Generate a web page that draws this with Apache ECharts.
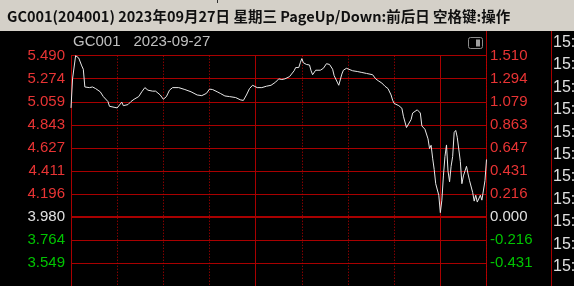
<!DOCTYPE html>
<html>
<head>
<meta charset="utf-8">
<script src="https://cdn.jsdelivr.net/npm/echarts@6/dist/echarts.min.js"></script>
<style>
html,body{margin:0;padding:0;background:#000;}
#c{width:574px;height:286px;}
</style>
</head>
<body>
<div id="c"></div>
<script>
// ---- data ----
var titleText = 'GC001(204001) 2023年09月27日 星期三 PageUp/Down:前后日 空格键:操作';
var codeText = 'GC001';
var dateText = '2023-09-27';
var preClose = 3.980;
var stepValue = 0.215714;
var leftTicks = ['5.490','5.274','5.059','4.843','4.627','4.411','4.196','3.980','3.764','3.549'];
var rightTicks = ['1.510','1.294','1.079','0.863','0.647','0.431','0.216','0.000','-0.216','-0.431'];
var sideTimes = ['15:30','15:30','15:30','15:30','15:30','15:30','15:30','15:30','15:30','15:30','15:30'];
// trading minutes from 09:30 (lunch break removed; 120 = 11:30/13:00, 240 = 15:00, 270 = 15:30)
var minutes = [0,1,3,5,7,8,9,12,14,16,19,21,22,24,25,26,28,30,33,34,37,39,41,44,46,48,50,53,55,58,60,62,64,66,70,71,74,78,82,85,88,90,92,95,97,100,103,107,110,112,114,116,118,121,124,127,130,133,135,137,139,140,142,145,146,148,149,150,151,153,155,156,157,159,160,162,164,166,167,168,170,171,173,174,175,176,177,179,180,183,186,189,192,196,198,200,202,204,206,208,209,210,213,215,216,218,219,221,222,225,226,227,228,230,232,233,234,235,236,237,239,240,241,242,243,244,245,246,247,248,249,250,251,253,254,255,257,258,259,261,262,263,264,266,267,268,269,270];
var prices = [5.001,5.273,5.490,5.469,5.394,5.363,5.197,5.191,5.197,5.182,5.152,5.107,5.107,5.061,5.016,5.016,5.007,5.001,5.055,5.022,5.032,5.061,5.082,5.107,5.152,5.191,5.167,5.158,5.158,5.122,5.082,5.107,5.167,5.191,5.191,5.182,5.173,5.152,5.122,5.116,5.137,5.177,5.173,5.152,5.137,5.113,5.107,5.098,5.077,5.071,5.122,5.182,5.213,5.191,5.191,5.204,5.213,5.243,5.273,5.267,5.273,5.273,5.294,5.349,5.379,5.379,5.424,5.463,5.424,5.408,5.403,5.349,5.312,5.354,5.342,5.354,5.372,5.415,5.433,5.408,5.363,5.303,5.243,5.213,5.227,5.318,5.354,5.372,5.363,5.349,5.342,5.333,5.324,5.312,5.273,5.252,5.234,5.204,5.182,5.122,5.073,5.043,5.022,4.998,4.923,4.817,4.832,4.892,4.953,4.983,4.992,4.953,4.832,4.801,4.711,4.620,4.651,4.530,4.425,4.291,4.183,4.020,4.137,4.364,4.545,4.654,4.409,4.309,4.454,4.545,4.771,4.790,4.726,4.500,4.291,4.364,4.454,4.382,4.319,4.210,4.128,4.183,4.119,4.183,4.137,4.137,4.319,4.518];

// ---- build ----
var seriesData = minutes.map(function (m, i) {
  return [m, (prices[i] - preClose) / stepValue];
});
var RED = '#e83434', GREEN = '#00c400', WHITE = '#e0e0e0';
var GRID = '#a80000';
function labelColor(v) {
  v = Math.round(Number(v));
  return v > 0 ? RED : (v < 0 ? GREEN : WHITE);
}
var labelFont = 'Liberation Sans, Arial, sans-serif';

var graphics = [
  { type: 'rect', shape: { x: 0, y: 0, width: 574, height: 31 }, style: { fill: '#d4d0c8' }, silent: true },
  { type: 'line', shape: { x1: 217.5, y1: 0, x2: 217.5, y2: 3 }, style: { stroke: '#303030', lineWidth: 1 }, silent: true },
  { type: 'text', x: 7, y: 16, style: { text: titleText, fill: '#101010', font: 'bold 14.5px "Noto Sans CJK SC", sans-serif', verticalAlign: 'middle' }, silent: true },
  { type: 'text', x: 73, y: 42, style: { text: codeText, fill: '#c0c0c0', font: '15px ' + labelFont, verticalAlign: 'middle' }, silent: true },
  { type: 'text', x: 133.5, y: 42, style: { text: dateText, fill: '#c0c0c0', font: '15px ' + labelFont, verticalAlign: 'middle' }, silent: true },
  { type: 'rect', shape: { x: 468.5, y: 37.5, width: 14, height: 11, r: 2 }, style: { fill: 'none', stroke: '#8c8c8c', lineWidth: 1 }, silent: true },
  { type: 'rect', shape: { x: 476, y: 39.5, width: 4, height: 7 }, style: { fill: '#a0a0a0' }, silent: true },
  { type: 'line', shape: { x1: 486.5, y1: 31, x2: 486.5, y2: 286 }, style: { stroke: GRID, lineWidth: 1 }, silent: true },
  { type: 'line', shape: { x1: 551.5, y1: 31, x2: 551.5, y2: 286 }, style: { stroke: GRID, lineWidth: 1 }, silent: true }
];
sideTimes.forEach(function (t, i) {
  graphics.push({ type: 'text', x: 553, y: 42.5 + i * 22.4, style: { text: t, fill: '#e0e0e0', font: '16px ' + labelFont, verticalAlign: 'middle' }, silent: true });
});

var chart = echarts.init(document.getElementById('c'), null, { width: 574, height: 286, renderer: 'canvas' });
chart.setOption({
  backgroundColor: '#000000',
  animation: false,
  grid: { left: 71, top: 55.7, width: 415.5, height: 238.1 },
  xAxis: {
    type: 'value', min: 0, max: 270, interval: 30,
    axisLine: { show: false }, axisTick: { show: false }, axisLabel: { show: false },
    splitLine: { show: true, lineStyle: { color: '#c00000', width: 1, type: [1, 2] } }
  },
  yAxis: [
    {
      type: 'value', min: -3, max: 7, interval: 1, position: 'left',
      axisLine: { show: false }, axisTick: { show: false },
      axisLabel: {
        margin: 6, fontSize: 15, fontFamily: labelFont, showMinLabel: false,
        color: function (v) { return labelColor(v); },
        formatter: function (v) { var k = 7 - Math.round(v); return leftTicks[k] || ''; }
      },
      splitLine: { show: true, lineStyle: { color: GRID, width: 1 } }
    },
    {
      type: 'value', min: -3, max: 7, interval: 1, position: 'right',
      axisLine: { show: false }, axisTick: { show: false },
      axisLabel: {
        margin: 3.5, fontSize: 15, fontFamily: labelFont, showMinLabel: false,
        color: function (v) { return labelColor(v); },
        formatter: function (v) { var k = 7 - Math.round(v); return rightTicks[k] || ''; }
      },
      splitLine: { show: false }
    }
  ],
  series: [{
    type: 'line',
    data: seriesData,
    symbol: 'none',
    clip: false,
    lineStyle: { color: '#e8e8e8', width: 1 },
    z: 5,
    markLine: {
      silent: true, symbol: 'none', animation: false,
      label: { show: false },
      data: [
        { yAxis: 0, lineStyle: { color: GRID, width: 2, type: 'solid' } },
        { xAxis: 0, lineStyle: { color: GRID, width: 1, type: 'solid' } },
        { xAxis: 120, lineStyle: { color: GRID, width: 1, type: 'solid' } },
        { xAxis: 240, lineStyle: { color: GRID, width: 1, type: 'solid' } }
      ],
      z: 2
    }
  }],
  graphic: graphics
});
</script>
</body>
</html>
